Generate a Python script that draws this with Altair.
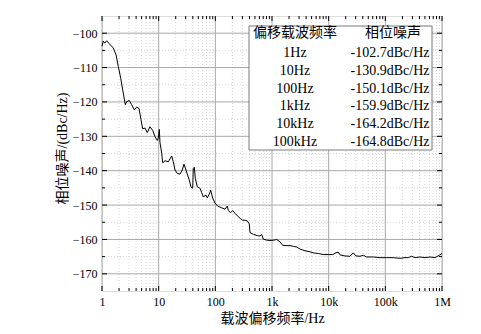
import altair as alt
import pandas as pd

# ---------------- data ----------------
freq = [1.0, 1.05, 1.12, 1.21, 1.35, 1.58, 1.77, 1.94, 2.14, 2.32, 2.58, 2.73, 3.03, 3.34,
        3.72, 4.10, 4.50, 4.88, 5.23, 5.74, 6.30, 7.03, 7.85, 8.62, 9.46, 9.85, 10.26, 10.55,
        11.31, 11.78, 12.93, 14.79, 16.98, 18.12, 19.42, 21.32, 23.79, 26.12, 27.99, 30.36,
        32.0, 34.72, 37.2, 39.86, 40.84, 42.55, 44.31, 48.05, 53.6, 57.45, 61.32, 68.42,
        72.13, 78.25, 82.83, 89.84, 98.6, 110.1, 129.5, 148.1, 162.6, 169.4, 186.7, 202.5,
        222.3, 254.2, 280.3, 304, 333.8, 366.4, 397.5, 408.9, 467.7, 550.3, 613.8, 657.7,
        702, 806, 921.5, 1084, 1210, 1384, 1544, 1766, 2077, 2375, 2727, 3118, 3820, 4682,
        5354, 6559, 8035, 9847, 11777, 13464, 14780, 15840, 19407, 23780, 27196, 30340,
        35700, 40820, 46880, 61270, 80460, 105600, 138100, 181300, 222200, 254100, 291700,
        333600, 408800, 500600, 613700, 751700, 895400, 1000000]
noise = [-103.8, -102.3, -102.9, -102.2, -103.1, -104.3, -106.3, -109.7, -113.1, -116.5,
         -120.8, -119.9, -119.6, -120.8, -122.3, -121.5, -121.9, -125.2, -127.8, -127.6,
         -128.9, -127.2, -128.3, -130.1, -131.2, -130.5, -128.0, -131.8, -134.9, -137.7,
         -137.1, -137.4, -135.7, -137.4, -139.8, -140.8, -141.0, -139.8, -138.1, -139.8,
         -141.0, -142.7, -144.7, -145.1, -139.3, -139.0, -142.2, -144.7, -145.1, -146.4,
         -147.6, -147.1, -147.9, -146.8, -145.7, -148.0, -149.4, -150.3, -150.8, -151.2,
         -150.3, -151.6, -152.2, -151.6, -152.4, -153.4, -154.0, -154.4, -154.4, -154.6,
         -155.5, -158.0, -158.5, -158.9, -159.0, -158.6, -159.9, -160.2, -160.3, -160.2,
         -160.0, -160.7, -161.7, -161.8, -161.8, -162.0, -162.2, -162.8, -163.3, -163.6,
         -163.9, -164.1, -164.4, -164.4, -164.4, -163.9, -163.7, -164.5, -164.8, -164.9,
         -163.9, -164.8, -164.9, -164.6, -165.1, -165.1, -165.3, -165.3, -165.3, -165.5,
         -165.3, -165.3, -164.9, -165.3, -165.1, -165.3, -165.1, -165.3, -164.6, -164.1]

x_tick_values = [1, 10, 100, 1000, 10000, 100000, 1000000]
x_tick_labels = ["1", "10", "100", "1k", "10k", "100k", "1M"]
x_minor_values = [k * 10 ** d for d in range(6) for k in range(2, 10)]
y_tick_values = [-170, -160, -150, -140, -130, -120, -110, -100]
y_minor_values = [-165, -155, -145, -135, -125, -115, -105]

table_header = ["偏移载波频率", "相位噪声"]
table_offsets = ["1Hz", "10Hz", "100Hz", "1kHz", "10kHz", "100kHz"]
table_noise = ["-102.7dBc/Hz", "-130.9dBc/Hz", "-150.1dBc/Hz",
               "-159.9dBc/Hz", "-164.2dBc/Hz", "-164.8dBc/Hz"]

# ---------------- styling ----------------
W, H = 340, 275
FONT = "Liberation Serif, Noto Sans CJK SC"
xs = alt.Scale(type="log", domain=[1, 1000000], nice=False)
ys = alt.Scale(domain=[-175, -95], zero=False, nice=False)

label_expr = " : ".join(
    f"datum.value == {v} ? '{l}'" for v, l in zip(x_tick_values, x_tick_labels)
) + " : ''"

x_axis = alt.Axis(values=x_tick_values, labelExpr=label_expr, grid=False, ticks=False,
                  domain=False, labelFont=FONT, labelFontSize=12, labelColor="black",
                  labelPadding=5, labelFlush=False, labelOverlap=False,
                  title="载波偏移频率/Hz", titleFont=FONT, titleFontSize=14,
                  titleFontWeight="normal", titleColor="black", titleY=27,
                  titleBaseline="middle")
y_axis = alt.Axis(values=y_tick_values, grid=False, ticks=False, domain=False,
                  labelFont=FONT, labelFontSize=12, labelColor="black", labelPadding=5,
                  title="相位噪声/(dBc/Hz)", titleFont=FONT, titleFontSize=14,
                  titleFontWeight="normal", titleColor="black", titleX=-40, titleY=132,
                  titleBaseline="middle")


def X():
    return alt.X("f:Q", scale=xs, axis=x_axis)


def Y():
    return alt.Y("pn:Q", scale=ys, axis=y_axis)


xmaj = pd.DataFrame({"f": x_tick_values})
xmin = pd.DataFrame({"f": x_minor_values})
ymaj = pd.DataFrame({"pn": y_tick_values})
ymin = pd.DataFrame({"pn": y_minor_values})

layers = []
# grid
layers.append(alt.Chart(xmin).mark_rule(color="#cccccc", strokeWidth=0.8,
                                        strokeDash=[1, 2]).encode(x=X()))
layers.append(alt.Chart(ymin).mark_rule(color="#cccccc", strokeWidth=0.8,
                                        strokeDash=[1, 2]).encode(y=Y()))
layers.append(alt.Chart(xmaj).mark_rule(color="#a8a8a8", strokeWidth=1).encode(x=X()))
layers.append(alt.Chart(ymaj).mark_rule(color="#a8a8a8", strokeWidth=1).encode(y=Y()))

# curve
curve = pd.DataFrame({"f": freq, "pn": noise})
layers.append(alt.Chart(curve).mark_line(color="black", strokeWidth=1).encode(
    x=X(), y=Y(), order=alt.Order("f:Q")))

# inward ticks
for df, l in ((xmaj, 5), (xmin, 3)):
    layers.append(alt.Chart(df).mark_rule(color="black", strokeWidth=1).encode(
        x=X(), y=alt.value(H), y2=alt.value(H - l)))
    layers.append(alt.Chart(df).mark_rule(color="black", strokeWidth=1).encode(
        x=X(), y=alt.value(0), y2=alt.value(l)))
for df, l in ((ymaj, 5), (ymin, 3)):
    layers.append(alt.Chart(df).mark_rule(color="black", strokeWidth=1).encode(
        y=Y(), x=alt.value(0), x2=alt.value(l)))
    layers.append(alt.Chart(df).mark_rule(color="black", strokeWidth=1).encode(
        y=Y(), x=alt.value(W), x2=alt.value(W - l)))

# table box
box_df = pd.DataFrame({"k": [0]})
layers.append(alt.Chart(box_df).mark_rect(fill="white", stroke="#7a7a7a",
                                          strokeWidth=1).encode(
    x=alt.value(147), x2=alt.value(330), y=alt.value(10), y2=alt.value(134)))

# table text
COL1, COL2, COL2H = 193, 288, 291
rows = [(table_header[0], table_header[1], 17, COL2H)]
for i, (a, b) in enumerate(zip(table_offsets, table_noise)):
    rows.append((a, b, 37 + 17.8 * i, COL2))
for a, b, yy, c2 in rows:
    for txt, xx in ((a, COL1), (b, c2)):
        layers.append(alt.Chart(pd.DataFrame({"t": [txt]})).mark_text(
            font=FONT, fontSize=14, color="black", align="center",
            baseline="middle").encode(text="t:N", x=alt.value(xx), y=alt.value(yy)))

chart = alt.layer(*layers).properties(
    width=W, height=H,
    autosize=alt.AutoSizeParams(type="none"),
    padding={"left": 94, "top": 8, "right": 20, "bottom": 35},
).configure_view(stroke="black", strokeWidth=1.5).configure(background="white")

chart.save("out.html", embed_options={"renderer": "svg", "actions": False})
